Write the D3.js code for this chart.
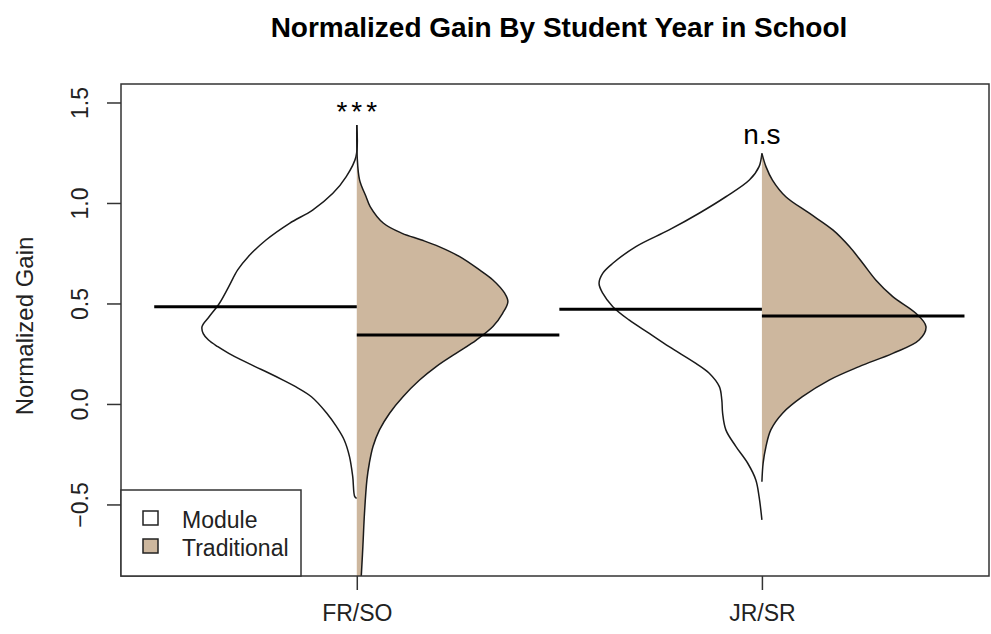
<!DOCTYPE html>
<html>
<head>
<meta charset="utf-8">
<script src="https://cdn.jsdelivr.net/npm/d3@7"></script>
<style>
  html, body { margin: 0; padding: 0; background: #fff; }
  svg { display: block; }
  text { font-family: "Liberation Sans", Arial, sans-serif; }
</style>
</head>
<body>
<svg id="chart" width="991" height="634"></svg>
<script>
// ---------------- data ----------------
const title = "Normalized Gain By Student Year in School";
const yLabel = "Normalized Gain";
const categories = ["FR/SO", "JR/SR"];
const groups = ["Module", "Traditional"];
const yTicks = [-0.5, 0.0, 0.5, 1.0, 1.5];
const annotations = ["***", "n.s"];
const medianModule = [0.484, 0.471];
const medianTraditional = [0.343, 0.438];

// density outlines: [value, half-width in category units]
const densityFRSOModule = [
  [1.388, 0], [1.230, 0.002], [1.131, 0.026], [1.048, 0.059], [0.965, 0.109],
  [0.899, 0.166], [0.816, 0.224], [0.733, 0.268], [0.667, 0.294], [0.584, 0.316],
  [0.501, 0.339], [0.435, 0.364], [0.385, 0.382], [0.350, 0.379], [0.318, 0.366],
  [0.285, 0.343], [0.252, 0.316], [0.219, 0.285], [0.186, 0.251], [0.153, 0.216],
  [0.119, 0.182], [0.086, 0.151], [0.036, 0.112], [-0.046, 0.074], [-0.113, 0.050],
  [-0.179, 0.031], [-0.262, 0.018], [-0.362, 0.010], [-0.461, 0.005], [-0.470, 0]
];
const densityFRSOTraditional = [
  [1.388, 0], [1.230, 0.001], [1.114, 0.007], [1.031, 0.023], [0.982, 0.033],
  [0.899, 0.066], [0.849, 0.112], [0.816, 0.160], [0.783, 0.203], [0.733, 0.254],
  [0.667, 0.303], [0.617, 0.336], [0.551, 0.365], [0.509, 0.373], [0.451, 0.360],
  [0.385, 0.336], [0.318, 0.295], [0.252, 0.245], [0.186, 0.196], [0.119, 0.155],
  [0.036, 0.114], [-0.046, 0.081], [-0.129, 0.056], [-0.212, 0.040], [-0.295, 0.031],
  [-0.378, 0.025], [-0.544, 0.019], [-0.710, 0.015], [-0.859, 0.011], [-0.950, 0.008]
];
const densityJRSRModule = [
  [1.247, 0], [1.181, 0.007], [1.114, 0.031], [1.031, 0.089], [0.949, 0.155],
  [0.866, 0.229], [0.783, 0.311], [0.700, 0.368], [0.650, 0.393], [0.600, 0.402],
  [0.551, 0.393], [0.484, 0.368], [0.418, 0.328], [0.351, 0.278], [0.285, 0.229],
  [0.202, 0.163], [0.153, 0.130], [0.086, 0.105], [0.020, 0.099], [-0.046, 0.097],
  [-0.129, 0.089], [-0.212, 0.064], [-0.295, 0.035], [-0.378, 0.015], [-0.461, 0.007],
  [-0.577, 0]
];
const densityJRSRTraditional = [
  [1.247, 0], [1.181, 0.010], [1.114, 0.026], [1.031, 0.059], [0.949, 0.117],
  [0.866, 0.175], [0.783, 0.216], [0.700, 0.249], [0.617, 0.281], [0.534, 0.323],
  [0.451, 0.380], [0.385, 0.405], [0.318, 0.388], [0.252, 0.323], [0.186, 0.240],
  [0.119, 0.166], [0.036, 0.100], [-0.046, 0.051], [-0.129, 0.022], [-0.212, 0.010],
  [-0.295, 0.003], [-0.387, 0]
];
const moduleDensities = [densityFRSOModule, densityJRSRModule];
const traditionalDensities = [densityFRSOTraditional, densityJRSRTraditional];

// ---------------- layout ----------------
const plot = { left: 121, top: 84, right: 989, bottom: 576 };
const colModule = "#ffffff";
const colTraditional = "#CDB79E";
const ink = "#1a1a1a";

const svg = d3.select("#chart");

const x = d3.scaleLinear().domain([0.418, 2.563]).range([plot.left, 990]);
const y = d3.scaleLinear().domain([-0.856, 1.592]).range([plot.bottom, plot.top]);
const unit = x(1) - x(0);

// clip
svg.append("defs").append("clipPath").attr("id", "plotclip")
  .append("rect")
  .attr("x", plot.left).attr("y", plot.top)
  .attr("width", plot.right - plot.left).attr("height", plot.bottom - plot.top);

const g = svg.append("g").attr("clip-path", "url(#plotclip)");

function drawHalf(dens, catIdx, side, fill) {
  const cx = x(catIdx + 1);
  const sgn = side === "left" ? -1 : 1;
  const curve = d3.curveCatmullRom.alpha(0.5);
  const area = d3.area()
    .y(d => y(d[0]))
    .x0(cx)
    .x1(d => cx + sgn * d[1] * unit)
    .curve(curve);
  g.append("path").datum(dens)
    .attr("d", area)
    .attr("fill", fill)
    .attr("stroke", "none");
  const line = d3.line()
    .x(d => cx + sgn * d[1] * unit)
    .y(d => y(d[0]))
    .curve(curve);
  g.append("path").datum(dens)
    .attr("d", line)
    .attr("fill", "none")
    .attr("stroke", ink)
    .attr("stroke-width", 1.5);
}

categories.forEach((c, i) => {
  drawHalf(moduleDensities[i], i, "left", colModule);
  drawHalf(traditionalDensities[i], i, "right", colTraditional);
});

// median lines
categories.forEach((c, i) => {
  const cx = i + 1;
  g.append("line")
    .attr("x1", x(cx - 0.5)).attr("x2", x(cx))
    .attr("y1", y(medianModule[i])).attr("y2", y(medianModule[i]))
    .attr("stroke", "#000").attr("stroke-width", 3);
  g.append("line")
    .attr("x1", x(cx)).attr("x2", x(cx + 0.5))
    .attr("y1", y(medianTraditional[i])).attr("y2", y(medianTraditional[i]))
    .attr("stroke", "#000").attr("stroke-width", 3);
});

// box
svg.append("rect")
  .attr("x", plot.left).attr("y", plot.top)
  .attr("width", plot.right - plot.left).attr("height", plot.bottom - plot.top)
  .attr("fill", "none").attr("stroke", "#333").attr("stroke-width", 1.5);

// y axis
const yAxis = svg.append("g")
  .attr("transform", `translate(${plot.left},0)`)
  .call(d3.axisLeft(y).tickValues(yTicks).tickFormat(d3.format(".1f")).tickSize(14));
yAxis.select(".domain").remove();
yAxis.selectAll(".tick line").attr("stroke", "#333").attr("stroke-width", 1.5);
yAxis.selectAll(".tick text")
  .attr("x", null).attr("dy", null)
  .attr("transform", "translate(-33,0) rotate(-90)")
  .attr("text-anchor", "middle")
  .attr("fill", "#222")
  .style("font-size", "23px")
  .style("font-family", "'Liberation Sans', Arial, sans-serif");

// x axis
const xAxis = svg.append("g")
  .attr("transform", `translate(0,${plot.bottom})`)
  .call(d3.axisBottom(x).tickValues([1, 2]).tickFormat(d => categories[d - 1]).tickSize(14));
xAxis.select(".domain").remove();
xAxis.selectAll(".tick line").attr("stroke", "#333").attr("stroke-width", 1.5);
xAxis.selectAll(".tick text")
  .attr("y", 45).attr("dy", null)
  .attr("fill", "#222")
  .style("font-size", "23px")
  .style("font-family", "'Liberation Sans', Arial, sans-serif");

// title
svg.append("text")
  .attr("x", 559).attr("y", 37)
  .attr("text-anchor", "middle")
  .style("font-size", "28px").style("font-weight", "bold")
  .attr("fill", "#000")
  .text(title);

// y label
svg.append("text")
  .attr("transform", "translate(33,326) rotate(-90)")
  .attr("text-anchor", "middle")
  .style("font-size", "24px")
  .attr("fill", "#222")
  .text(yLabel);

// annotations
svg.append("text")
  .attr("x", x(1) + 2).attr("y", 121)
  .attr("text-anchor", "middle")
  .style("font-size", "28px").style("letter-spacing", "4px")
  .attr("fill", "#000")
  .text(annotations[0]);
svg.append("text")
  .attr("x", x(2)).attr("y", 144)
  .attr("text-anchor", "middle")
  .style("font-size", "28px")
  .attr("fill", "#000")
  .text(annotations[1]);

// legend
const lg = svg.append("g");
lg.append("rect")
  .attr("x", plot.left).attr("y", 490)
  .attr("width", 180).attr("height", plot.bottom - 490)
  .attr("fill", "#fff").attr("stroke", "#333").attr("stroke-width", 1.5);
const legendFills = [colModule, colTraditional];
groups.forEach((name, i) => {
  const yy = 511 + i * 28;
  lg.append("rect")
    .attr("x", 143).attr("y", yy).attr("width", 15).attr("height", 14)
    .attr("fill", legendFills[i]).attr("stroke", "#222").attr("stroke-width", 1.5);
  lg.append("text")
    .attr("x", 182).attr("y", yy + 17)
    .style("font-size", "23px")
    .attr("fill", "#222")
    .text(name);
});
</script>
</body>
</html>
